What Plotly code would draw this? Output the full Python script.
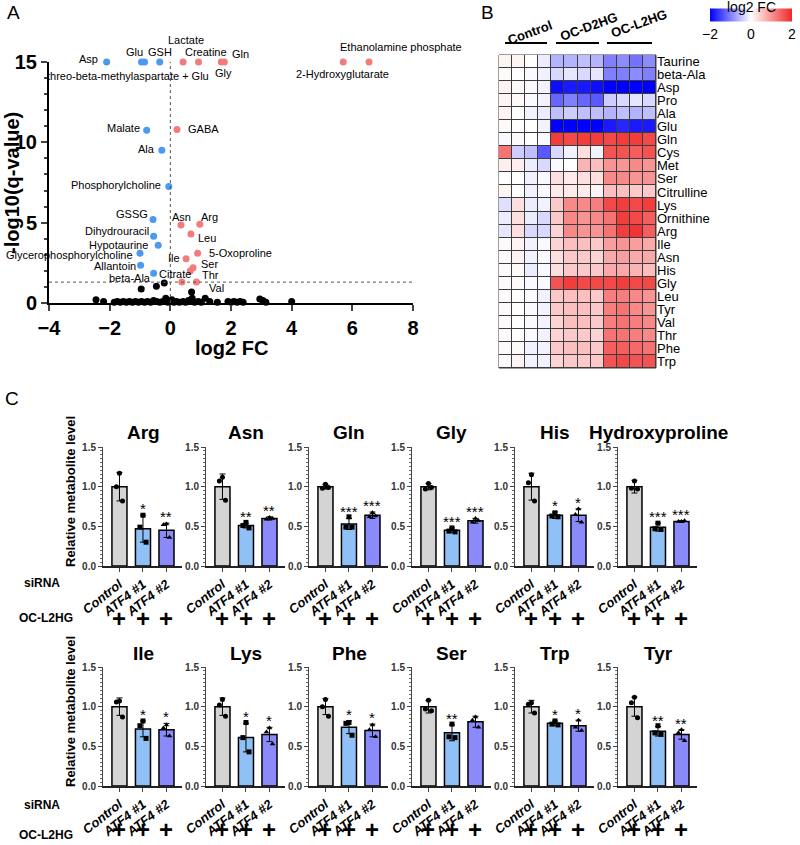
import plotly.graph_objects as go

FONT = "Arial, Liberation Sans, Helvetica, sans-serif"
W, H = 800, 845

# ---------------- Panel A: volcano plot data ----------------
up_names = ["Lactate", "Creatine", "Gln", "Gly", "Ethanolamine phosphate", "2-Hydroxyglutarate",
            "GABA", "Asn", "Arg", "Leu", "5-Oxoproline", "Ile", "Ser", "Thr", "Citrate", "Val"]
up_fc = [0.42, 0.93, 1.78, 1.68, 6.55, 5.70, 0.22, 0.35, 0.97, 0.68, 0.90, 0.52, 0.75, 0.66, 0.38, 0.86]
up_q = [15, 15, 15, 15, 15, 15, 10.8, 4.85, 4.9, 4.3, 3.1, 2.75, 2.2, 2.0, 1.3, 1.3]

down_names = ["Asp", "Glu", "threo-beta-methylaspartate + Glu", "GSH", "Malate", "Ala",
              "Phosphorylcholine", "GSSG", "Dihydrouracil", "Hypotaurine",
              "Glycerophosphorylcholine", "Allantoin", "beta-Ala"]
down_fc = [-2.1, -0.95, -0.85, -0.35, -0.78, -0.28, -0.05, -0.57, -0.55, -0.40, -1.0, -0.98, -0.55]
down_q = [15, 15, 15, 15, 10.75, 9.5, 7.25, 5.2, 4.15, 3.6, 3.1, 2.35, 1.85]

ns_fc = [-2.45, -2.2, -1.85, -1.75, -1.65, -1.55, -1.45, -1.35, -1.25, -1.15, -1.05, -0.95,
         -0.85, -0.75, -0.65, -0.55, -0.45, -0.35, -0.25, -0.15, -0.08, 0.05, 0.12, 0.2, 0.3,
         0.42, 0.5, 0.6, 0.72, 0.8, 0.92, 1.02, 1.15, 1.3, 1.55, 1.9, 2.0, 2.1, 2.2, 2.3, 2.4,
         2.95, 3.05, 3.15, 4.0, -0.96, -0.46, -0.2, 0.7]
ns_q = [0.2, 0.1, 0.05, 0.1, 0.05, 0.1, 0.05, 0.1, 0.05, 0.1, 0.05, 0.1,
        0.05, 0.1, 0.05, 0.15, 0.1, 0.05, 0.1, 0.3, 0.05, 0.2, 0.05, 0.1, 0.05,
        0.1, 0.05, 0.15, 0.3, 0.05, 0.1, 0.05, 0.3, 0.1, 0.05, 0.1, 0.05, 0.1, 0.05, 0.1, 0.05,
        0.25, 0.15, 0.05, 0.1, 0.87, 1.05, 1.24, 0.68]
q_cutoff = 1.3

# label placement (xanchor, xshift px, yshift px) relative to the point
label_pos = {
    "Asp": ("right", -7, 3), "Glu": ("center", -7, 10),
    "threo-beta-methylaspartate + Glu": ("center", -17, -14), "GSH": ("center", 0, 10),
    "Lactate": ("center", 3, 22), "Creatine": ("center", 7, 10), "Gln": ("center", 16, 8),
    "Gly": ("center", 2, -11), "Ethanolamine phosphate": ("center", 32, 15),
    "2-Hydroxyglutarate": ("center", -1, -12), "Malate": ("right", -5, 2),
    "GABA": ("left", 9, 0), "Ala": ("right", -5, 1), "Phosphorylcholine": ("right", -6, 2),
    "GSSG": ("right", -3, 5), "Asn": ("center", 1, 8), "Arg": ("center", 10, 7),
    "Leu": ("center", 16, -4), "Dihydrouracil": ("right", -3, 5), "Hypotaurine": ("right", -8, 0),
    "Glycerophosphorylcholine": ("right", -5, -2), "5-Oxoproline": ("left", 9, 0),
    "Ile": ("right", -4, 1), "Allantoin": ("right", -3, -1), "Ser": ("left", 6, 4),
    "Thr": ("left", 10, -4), "beta-Ala": ("right", -1, -5), "Citrate": ("center", -7, 8),
    "Val": ("left", 11, -6),
}

# ---------------- Panel B: heatmap data ----------------
hm_rows = ["Taurine", "beta-Ala", "Asp", "Pro", "Ala", "Glu", "Gln", "Cys", "Met", "Ser",
           "Citrulline", "Lys", "Ornithine", "Arg", "Ile", "Asn", "His", "Gly", "Leu", "Tyr",
           "Val", "Thr", "Phe", "Trp"]
hm_values = [
    [0.1, 0.1, 0.0, -0.15, -0.6, -0.6, -0.5, -0.6, -1.0, -0.9, -1.1, -0.9],
    [0.05, 0.0, -0.05, -0.1, -0.3, -0.2, -0.3, -0.2, -1.0, -1.0, -0.9, -1.0],
    [0.1, 0.05, -0.05, -0.1, -1.9, -1.8, -1.8, -1.9, -2.0, -2.0, -2.0, -2.0],
    [0.1, 0.05, -0.05, -0.1, -1.2, -1.0, -1.2, -1.3, -0.4, -0.3, -0.2, -0.3],
    [0.1, 0.0, -0.1, -0.15, -0.5, -0.4, -0.5, -0.5, -0.6, -0.5, -0.6, -0.5],
    [0.05, 0.0, 0.0, -0.1, -2.0, -2.0, -2.0, -2.0, -1.8, -1.7, -1.8, -1.8],
    [-0.05, 0.05, 0.0, -0.05, 1.8, 1.7, 1.8, 1.8, 1.7, 1.8, 1.8, 1.7],
    [1.3, -0.4, -0.5, -1.3, -0.3, -0.1, 0.3, -0.1, 1.6, 1.6, 1.5, 1.6],
    [0.15, 0.15, -0.15, -0.3, -0.05, 0.0, 0.7, 0.6, 1.0, 1.0, 1.1, 1.0],
    [0.0, 0.0, -0.1, -0.05, 0.3, 0.2, 0.3, 0.3, 1.1, 1.1, 1.0, 1.0],
    [0.1, 0.0, -0.1, -0.05, 0.2, 0.2, 0.2, 0.1, 0.6, 0.6, 0.5, 0.5],
    [-0.25, 0.3, -0.15, -0.1, 0.5, 1.1, 1.1, 1.2, 1.7, 1.8, 1.7, 1.8],
    [-0.15, 0.3, -0.15, -0.3, 0.5, 1.1, 1.0, 1.1, 1.3, 1.8, 1.7, 1.5],
    [-0.2, 0.3, -0.3, -0.3, 0.4, 1.1, 1.0, 1.0, 1.3, 1.8, 1.9, 1.5],
    [0.05, 0.1, -0.1, -0.05, 0.4, 0.6, 0.6, 0.5, 0.9, 1.0, 0.9, 0.8],
    [0.05, 0.1, -0.1, -0.05, 0.3, 0.5, 0.5, 0.4, 0.8, 0.9, 0.8, 0.8],
    [0.05, 0.05, -0.15, -0.05, 0.3, 0.5, 0.5, 0.5, 0.8, 0.8, 0.7, 0.6],
    [0.05, 0.05, -0.05, -0.05, 1.6, 1.8, 1.7, 1.7, 1.7, 1.8, 1.7, 1.7],
    [0.05, 0.0, -0.05, -0.1, 0.5, 0.6, 0.6, 0.5, 1.2, 1.2, 1.1, 1.0],
    [0.05, 0.0, -0.05, -0.1, 0.5, 0.6, 0.6, 0.5, 1.2, 1.3, 1.1, 1.0],
    [0.05, 0.0, -0.05, -0.1, 0.4, 0.6, 0.6, 0.5, 1.2, 1.3, 1.2, 1.1],
    [0.05, 0.0, -0.05, -0.1, 0.4, 0.5, 0.5, 0.4, 1.3, 1.3, 1.2, 1.1],
    [0.05, 0.05, -0.1, -0.1, 0.5, 0.6, 0.6, 0.5, 1.5, 1.5, 1.4, 1.3],
    [0.05, 0.1, -0.1, -0.1, 0.4, 0.5, 0.5, 0.5, 1.6, 1.7, 1.6, 1.6],
]
hm_groups = ["Control", "OC-D2HG", "OC-L2HG"]

# ---------------- Panel C: bar chart data ----------------
c_metabolites = ["Arg", "Asn", "Gln", "Gly", "His", "Hydroxyproline",
                 "Ile", "Lys", "Phe", "Ser", "Trp", "Tyr"]
c_groups = ["Control", "ATF4 #1", "ATF4 #2"]
c_mean = [
    [1.0, 0.47, 0.45], [1.0, 0.51, 0.60], [1.0, 0.53, 0.64], [1.0, 0.45, 0.57],
    [1.0, 0.64, 0.64], [1.0, 0.49, 0.56], [1.0, 0.72, 0.71], [1.0, 0.61, 0.65],
    [1.0, 0.74, 0.70], [1.0, 0.67, 0.81], [1.0, 0.79, 0.76], [1.0, 0.69, 0.65],
]
c_sd = [
    [0.18, 0.17, 0.09], [0.16, 0.03, 0.02], [0.03, 0.07, 0.04], [0.04, 0.03, 0.03],
    [0.17, 0.04, 0.08], [0.08, 0.05, 0.01], [0.11, 0.10, 0.08], [0.11, 0.18, 0.09],
    [0.10, 0.08, 0.08], [0.08, 0.10, 0.07], [0.08, 0.03, 0.07], [0.12, 0.06, 0.06],
]
c_points = [
    [[1.17, 1.0, 0.82], [0.64, 0.49, 0.30], [0.53, 0.52, 0.36]],
    [[1.12, 1.07, 0.83], [0.55, 0.51, 0.48], [0.61, 0.59, 0.60]],
    [[1.03, 0.98, 0.99], [0.62, 0.49, 0.49], [0.67, 0.62, 0.63]],
    [[1.04, 0.97, 0.99], [0.48, 0.44, 0.43], [0.60, 0.55, 0.57]],
    [[1.15, 1.05, 0.82], [0.67, 0.63, 0.62], [0.72, 0.65, 0.55]],
    [[1.07, 0.98, 0.97], [0.54, 0.47, 0.46], [0.56, 0.56, 0.57]],
    [[1.07, 1.06, 0.87], [0.82, 0.76, 0.60], [0.77, 0.73, 0.63]],
    [[1.09, 1.02, 0.88], [0.80, 0.61, 0.43], [0.73, 0.68, 0.53]],
    [[1.09, 1.0, 0.88], [0.80, 0.79, 0.64], [0.77, 0.71, 0.62]],
    [[1.08, 0.97, 0.95], [0.78, 0.62, 0.61], [0.87, 0.83, 0.74]],
    [[1.05, 1.03, 0.92], [0.82, 0.78, 0.77], [0.83, 0.74, 0.70]],
    [[1.12, 1.05, 0.86], [0.76, 0.67, 0.65], [0.71, 0.67, 0.57]],
]
c_stars = [
    ["", "*", "**"], ["", "**", "**"], ["", "***", "***"], ["", "***", "***"],
    ["", "*", "*"], ["", "***", "***"], ["", "*", "*"], ["", "*", "*"],
    ["", "*", "*"], ["", "**", ""], ["", "*", "*"], ["", "**", "**"],
]

BAR_COLORS = ["#d4d4d4", "#8fc1f7", "#8a8afa"]
SYMBOLS = ["circle", "square", "triangle-up"]
JITTER = [0.0, -0.13, 0.13]
BLUE, RED = "#4b99f0", "#f27c7c"


def px_x(p):
    return p / W


def px_y(p):
    return 1 - p / H


def paper_text(x, y, text, size, angle=0, **font):
    return dict(x=px_x(x), y=px_y(y), xref="paper", yref="paper", text=text, textangle=angle,
                showarrow=False, xanchor="center", yanchor="middle",
                font=dict(size=size, **font))


fig = go.Figure()
annotations = []
shapes = []

# ---------------- Panel A ----------------
fig.add_trace(go.Scatter(x=ns_fc, y=ns_q, mode="markers", cliponaxis=False,
                         marker=dict(color="black", size=7), xaxis="x", yaxis="y"))
fig.add_trace(go.Scatter(x=down_fc, y=down_q, mode="markers", cliponaxis=False,
                         marker=dict(color=BLUE, size=7), xaxis="x", yaxis="y"))
fig.add_trace(go.Scatter(x=up_fc, y=up_q, mode="markers", cliponaxis=False,
                         marker=dict(color=RED, size=7), xaxis="x", yaxis="y"))

for names, xs, ys in [(down_names, down_fc, down_q), (up_names, up_fc, up_q)]:
    for n, xv, yv in zip(names, xs, ys):
        anchor, dx, dy = label_pos[n]
        annotations.append(dict(x=xv, y=yv, xref="x", yref="y", text=n, showarrow=False,
                                xanchor=anchor, yanchor="middle", xshift=dx, yshift=dy,
                                font=dict(size=11, color="black")))

shapes.append(dict(type="line", xref="x", yref="y", x0=0, x1=0, y0=0, y1=15.2,
                   line=dict(color="#555", width=1, dash="dot")))
shapes.append(dict(type="line", xref="x", yref="y", x0=-4, x1=8, y0=q_cutoff, y1=q_cutoff,
                   line=dict(color="#555", width=1, dash="dot")))

annotations.append(paper_text(12, 183, "-log10(q-value)", 20, angle=-90, weight="bold"))
annotations.append(paper_text(231, 348, "log2 FC", 20, weight="bold"))

# ---------------- Panel B ----------------
fig.add_trace(go.Heatmap(
    z=hm_values, x=list(range(12)), y=hm_rows, xaxis="x2", yaxis="y2",
    zmin=-2, zmax=2, xgap=1, ygap=1,
    colorscale=[[0, "#0000ff"], [0.5, "#ffffff"], [1, "#f02828"]],
    colorbar=dict(orientation="h", x=px_x(751), xanchor="center", y=px_y(23), yanchor="middle",
                  len=82, lenmode="pixels", thickness=13, outlinewidth=0, ticks="",
                  tickvals=[-2, 0, 2], tickfont=dict(size=14), ypad=0, xpad=0),
))
annotations.append(paper_text(751, 7, "log2 FC", 14))
shapes.append(dict(type="rect", xref="x2 domain", yref="y2 domain", x0=0, x1=1, y0=0, y1=1,
                   fillcolor="#3c3c3c", line=dict(color="#3c3c3c", width=1), layer="below"))

group_px = [(530, 33, 505, 547), (589, 27, 556, 599), (639, 24, 607, 652)]
for g, (cx, cy, lx0, lx1) in zip(hm_groups, group_px):
    annotations.append(paper_text(cx, cy, g, 13, angle=-20, weight="bold"))
    shapes.append(dict(type="line", xref="paper", yref="paper", x0=px_x(lx0), x1=px_x(lx1),
                       y0=px_y(43), y1=px_y(43), line=dict(color="black", width=2)))

# ---------------- Panel C ----------------
axes = {}
for i, met in enumerate(c_metabolites):
    n = i + 3
    r, c = divmod(i, 6)
    x0 = 103 + 103 * c
    ytop, ybot = (447, 566) if r == 0 else (667, 786)
    xa, ya = f"x{n}", f"y{n}"
    fig.add_trace(go.Bar(
        x=[0, 1, 2], y=c_mean[i], width=0.64, xaxis=xa, yaxis=ya,
        marker=dict(color=BAR_COLORS, line=dict(color="black", width=1.5)),
        error_y=dict(type="data", array=c_sd[i], color="black", thickness=1, width=3),
    ))
    for k in range(3):
        fig.add_trace(go.Scatter(
            x=[k + j for j in JITTER], y=c_points[i][k], mode="markers", xaxis=xa, yaxis=ya,
            marker=dict(color="black", size=5, symbol=SYMBOLS[k]), cliponaxis=False,
        ))
        if c_stars[i][k]:
            annotations.append(dict(x=k, y=c_mean[i][k] + c_sd[i][k], xref=xa, yref=ya,
                                    text=c_stars[i][k], showarrow=False, xanchor="center",
                                    yanchor="bottom", yshift=-4,
                                    font=dict(size=15, color="black")))
        if r == 0:
            plus = dict(y=px_y(618), yanchor="middle")
        else:
            plus = dict(y=0, yanchor="bottom")
        annotations.append(dict(x=k, xref=xa, yref="paper", text="+", showarrow=False,
                                xanchor="center", font=dict(size=24, weight="bold"), **plus))
    axes[f"xaxis{n}"] = dict(
        domain=[px_x(x0), px_x(x0 + 79)], anchor=ya, range=[-0.7, 2.66],
        tickvals=[0, 1, 2], ticktext=c_groups, tickangle=-38, ticks="outside", ticklen=4,
        tickfont=dict(size=13, style="italic", weight="bold"), showline=True,
        linecolor="#222", linewidth=1.5, showgrid=False, zeroline=False,
    )
    axes[f"yaxis{n}"] = dict(
        domain=[px_y(ybot), px_y(ytop)], anchor=xa, range=[0, 1.5],
        tickvals=[0, 0.5, 1.0, 1.5], ticktext=["0.0", "0.5", "1.0", "1.5"],
        ticks="outside", ticklen=4, tickfont=dict(size=10, weight="bold", color="#333"),
        minor=dict(dtick=0.05, ticks="outside", ticklen=2, tickcolor="#666"),
        showline=True, linecolor="#444", linewidth=1, showgrid=False, zeroline=False,
    )
    annotations.append(paper_text(x0 + 40, 432 if r == 0 else 653, met, 19, weight="bold"))

for ycen, ysi, yoc in [(492, 583, 618), (712, 805, 835)]:
    annotations.append(paper_text(70, ycen, "Relative metabolite level", 13, angle=-90,
                                  weight="bold"))
    annotations.append(paper_text(42, ysi, "siRNA", 12, weight="bold"))
    annotations.append(paper_text(46, yoc, "OC-L2HG", 12, weight="bold"))

for letter, lx, ly in [("A", 13, 13), ("B", 487, 13), ("C", 12, 398)]:
    annotations.append(paper_text(lx, ly, letter, 19))

fig.update_layout(
    width=W, height=H, margin=dict(l=0, r=0, t=0, b=0, autoexpand=False),
    paper_bgcolor="white", plot_bgcolor="white", showlegend=False,
    font=dict(family=FONT, color="black"),
    xaxis=dict(domain=[px_x(49), px_x(413)], anchor="y", range=[-4, 8], dtick=2,
               showline=True, linecolor="black", linewidth=2, ticks="outside", ticklen=6,
               tickwidth=2, tickfont=dict(size=20, weight="bold"), showgrid=False, zeroline=False),
    yaxis=dict(domain=[px_y(303), px_y(62)], anchor="x", range=[0, 15], dtick=5,
               showline=True, linecolor="black", linewidth=2, ticks="outside", ticklen=6,
               tickwidth=2, tickfont=dict(size=20, weight="bold"), showgrid=False, zeroline=False,
               minor=dict(dtick=1, ticks="outside", ticklen=3, tickwidth=1.5)),
    xaxis2=dict(domain=[px_x(499), px_x(656)], anchor="y2", showticklabels=False,
                showgrid=False, zeroline=False, ticks=""),
    yaxis2=dict(domain=[px_y(368), px_y(55)], anchor="x2", side="right", autorange="reversed",
                tickmode="array", tickvals=hm_rows, ticktext=hm_rows,
                ticks="", tickfont=dict(size=13), showgrid=False, zeroline=False),
    annotations=annotations, shapes=shapes,
    **axes,
)

# the default page body has an 8px margin; drop it so the figure fills the window exactly
fig.write_html("out.html", config={"displayModeBar": False},
               post_script="document.body.style.margin = '0';")
